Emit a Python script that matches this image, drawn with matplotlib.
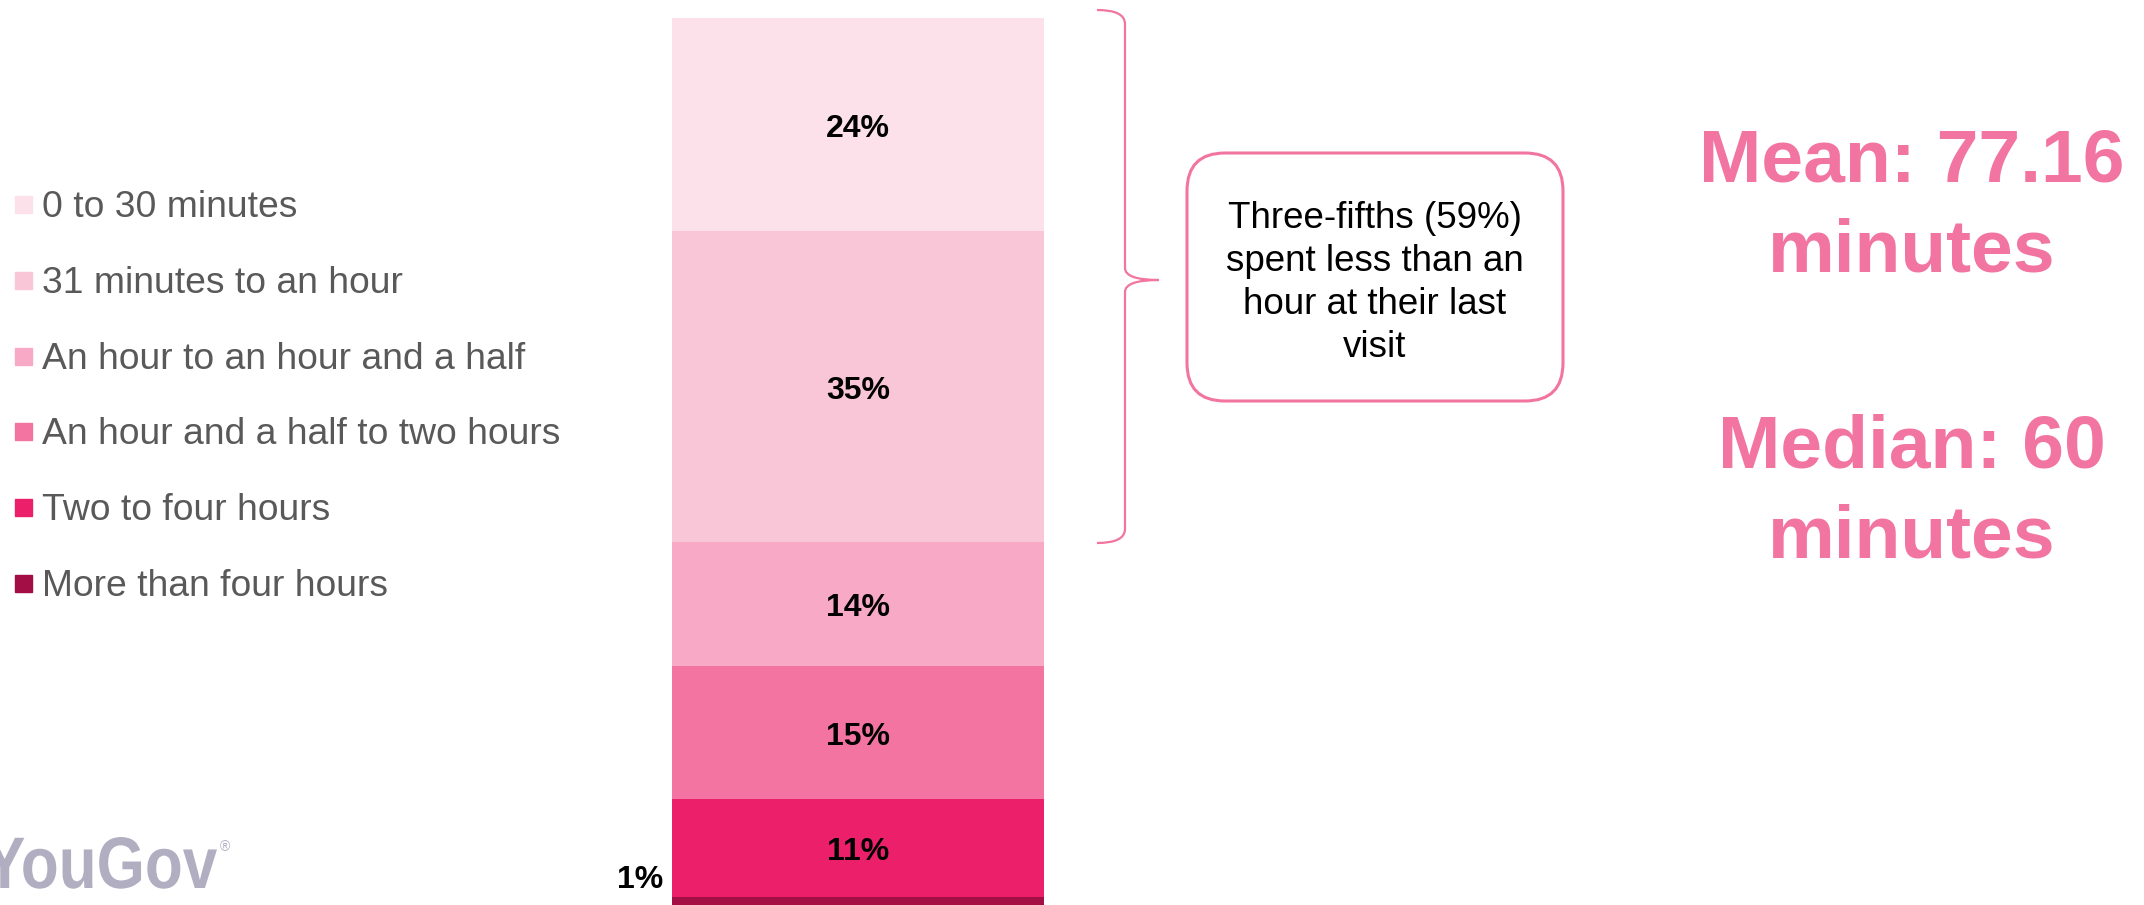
import matplotlib.pyplot as plt
from matplotlib.patches import FancyBboxPatch, PathPatch, Rectangle
from matplotlib.path import Path
from matplotlib.textpath import TextPath
from matplotlib.font_manager import FontProperties
import matplotlib.transforms as mtransforms

plt.rcParams['font.family'] = ['Liberation Sans', 'DejaVu Sans']

# données du graphique
categories = ["0 to 30 minutes", "31 minutes to an hour", "An hour to an hour and a half",
              "An hour and a half to two hours", "Two to four hours", "More than four hours"]
parts = [24, 35, 14, 15, 11, 1]
couleurs = ["#FCE1EA", "#F9C6D7", "#F7A9C5", "#F374A1", "#EC1F6A", "#A30F45"]
texte_encadre = "Three-fifths (59%)\nspent less than an\nhour at their last\nvisit"
lignes_moyenne = ["Mean: 77.16", "minutes"]
lignes_mediane = ["Median: 60", "minutes"]

W, H = 2144, 905
rose = "#F274A0"

fig = plt.figure(figsize=(W / 100, H / 100), dpi=100)

# axe de fond en pixels (y vers le bas) pour les annotations
ov = fig.add_axes([0, 0, 1, 1])
ov.set_xlim(0, W)
ov.set_ylim(H, 0)
ov.set_axis_off()

# barre empilée
ax = fig.add_axes([672 / W, 1 - 906 / H, (1044 - 672) / W, (906 - 18) / H])
bas = 0
for cat, v, c in zip(categories, parts, couleurs):
    ax.bar(0, v, bottom=bas, width=1, color=c, label=cat)
    if v >= 5:
        ax.annotate(f"{v}%", xy=(0, bas + v / 2), xytext=(0, -4), textcoords='offset pixels',
                    ha='center', va='center', fontsize=23, fontweight='bold', color='black')
    else:
        # petite valeur : étiquette à gauche de la barre
        ax.annotate(f"{v}%", xy=(-0.5, bas), xytext=(-9, 2), textcoords='offset pixels',
                    ha='right', va='bottom', fontsize=23, fontweight='bold', color='black')
    bas += v
ax.set_xlim(-0.5, 0.5)
ax.set_ylim(100, 0)
ax.set_axis_off()

# légende faite à la main
for i, (cat, c) in enumerate(zip(categories, couleurs)):
    y = 217 + i * 75.8
    ov.add_patch(Rectangle((15, y - 21), 17, 17, color=c))
    ov.text(42, y, cat, fontsize=26.8, color='#595959', ha='left', va='baseline')

# accolade
verts = [(1097, 10), (1125, 10), (1125, 24), (1125, 268), (1125, 280), (1159, 280),
         (1125, 280), (1125, 292), (1125, 529), (1125, 543), (1097, 543)]
codes = [Path.MOVETO, Path.CURVE3, Path.CURVE3, Path.LINETO, Path.CURVE3, Path.CURVE3,
         Path.CURVE3, Path.CURVE3, Path.LINETO, Path.CURVE3, Path.CURVE3]
ov.add_patch(PathPatch(Path(verts, codes), fill=False, edgecolor=rose, lw=1.6))

# encadré
ov.add_patch(FancyBboxPatch((1187 + 38, 153 + 38), 376 - 76, 248 - 76,
                            boxstyle="round,pad=38", fc='white', ec=rose, lw=2.2))
ov.text(1375, 283, texte_encadre, ha='center', va='center', fontsize=26.5,
        color='black', linespacing=1.3)

# moyenne et médiane
for txt, yb in zip(lignes_moyenne + lignes_mediane, [181, 271, 467, 557]):
    ov.text(1912, yb, txt, ha='center', va='baseline', fontsize=54,
            fontweight='bold', color=rose)

# logo YouGov
gris = "#B2AEC1"
tp = TextPath((0, 0), "YouGov", size=73,
              prop=FontProperties(family='Liberation Sans', weight='bold'))
tr = mtransforms.Affine2D().scale(0.85, -1).translate(-16, 888) + ov.transData
ov.add_patch(PathPatch(tp, fc=gris, ec='none', transform=tr))
ov.text(225, 847, "®", fontsize=10, color=gris, ha='center', va='center')

fig.savefig("out.png", dpi=100)
